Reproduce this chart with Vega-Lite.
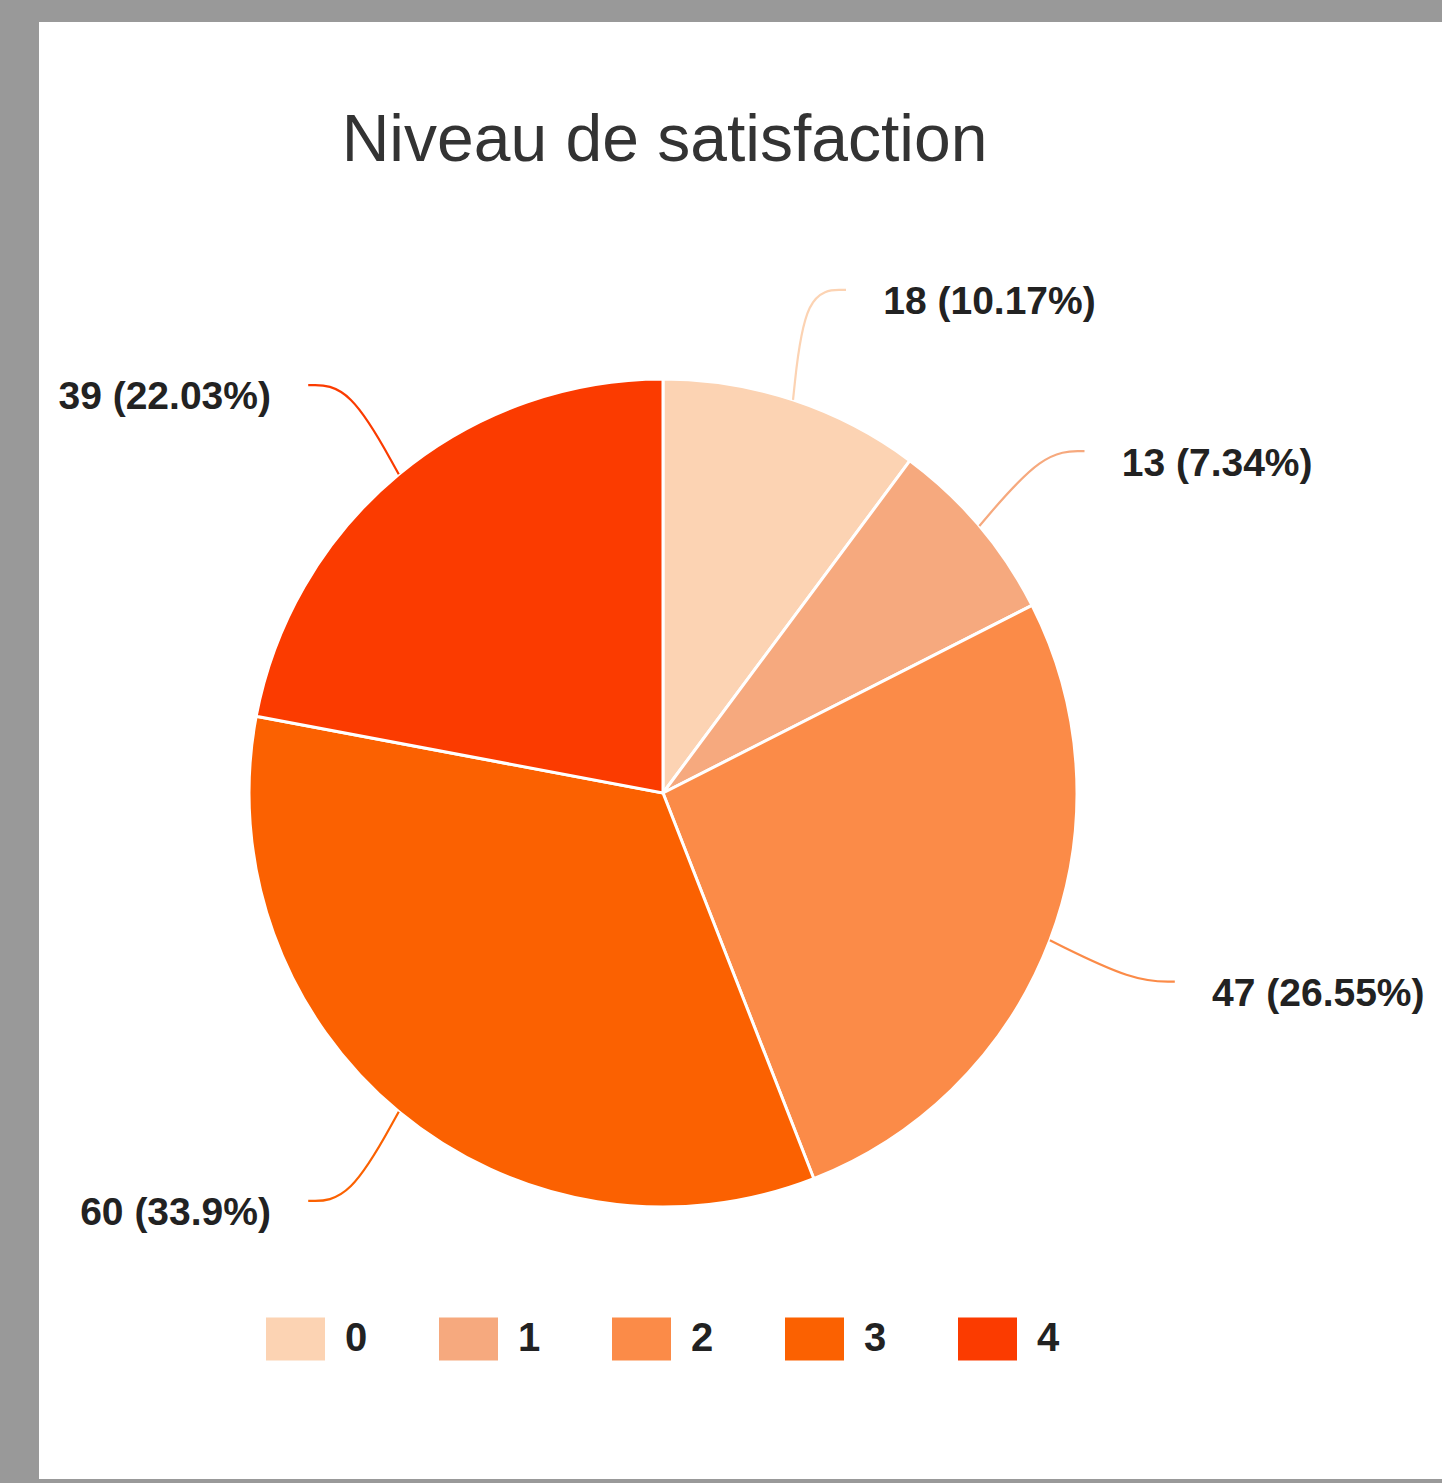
{
  "$schema": "https://vega.github.io/schema/vega-lite/v6.json",
  "autosize": "none",
  "width": 1403,
  "height": 1457,
  "padding": {"left": 39, "top": 22, "right": 0, "bottom": 4},
  "background": "#999999",
  "view": {"fill": "white", "stroke": null},
  "title": {
    "text": "Niveau de satisfaction",
    "fontSize": 66,
    "font": "Liberation Sans",
    "fontWeight": "normal",
    "color": "#333333",
    "anchor": "middle",
    "frame": "group",
    "dx": -76,
    "offset": -205,
    "baseline": "alphabetic"
  },
  "data": {
    "values": [
      {"cat": "0", "value": 18},
      {"cat": "1", "value": 13},
      {"cat": "2", "value": 47},
      {"cat": "3", "value": 60},
      {"cat": "4", "value": 39}
    ]
  },
  "transform": [
    {"window": [{"op": "sum", "field": "value", "as": "cum"}], "sort": [{"field": "cat"}], "frame": [null, 0]},
    {"joinaggregate": [{"op": "sum", "field": "value", "as": "total"}]},
    {"calculate": "2*PI*(datum.cum - datum.value/2)/datum.total", "as": "mid"},
    {"calculate": "sin(datum.mid) >= 0 ? 1 : -1", "as": "side"},
    {"calculate": "1.28*sin(datum.mid) + 0.04*datum.side", "as": "ex"},
    {"calculate": "1.28*cos(datum.mid)", "as": "ey"},
    {"calculate": "datum.ex + 0.09*datum.side", "as": "tx"},
    {"calculate": "datum.ey - 0.03", "as": "ty"},
    {"calculate": "datum.value + ' (' + round(datum.value/datum.total*10000)/100 + '%)'", "as": "label"}
  ],
  "layer": [
    {
      "mark": {"type": "arc", "outerRadius": 414, "stroke": "white", "strokeWidth": 3},
      "encoding": {
        "x": {"datum": 0, "type": "quantitative", "scale": {"domain": [-1.5072, 1.8816], "nice": false, "zero": false}, "axis": null},
        "y": {"datum": 0, "type": "quantitative", "scale": {"domain": [-1.657, 1.8623], "nice": false, "zero": false}, "axis": null},
        "theta": {"field": "value", "type": "quantitative", "stack": true},
        "order": {"field": "cat", "type": "ordinal"},
        "color": {
          "field": "cat",
          "type": "nominal",
          "scale": {"domain": ["0", "1", "2", "3", "4"], "range": ["#fcd3b3", "#f6a97e", "#fb8b48", "#fb6101", "#fb3b00"]},
          "legend": {
            "orient": "none",
            "legendX": 227,
            "legendY": 1287,
            "direction": "horizontal",
            "columns": 5,
            "title": null,
            "padding": 0,
            "symbolType": "M-1,-0.73H1V0.73H-1Z",
            "symbolSize": 3481,
            "symbolStrokeWidth": 0,
            "labelFont": "Liberation Sans",
            "labelFontSize": 40,
            "labelFontWeight": "bold",
            "labelColor": "#222222",
            "labelOffset": 20,
            "columnPadding": 71
          }
        }
      }
    },
    {
      "transform": [
        {"calculate": "[0, 1, 2]", "as": "k"},
        {"flatten": ["k"]},
        {"calculate": "datum.k == 0 ? sin(datum.mid) : (datum.k == 1 ? datum.ex - 0.1*datum.side : datum.ex)", "as": "px"},
        {"calculate": "datum.k == 0 ? cos(datum.mid) : datum.ey", "as": "py"}
      ],
      "mark": {"type": "line", "interpolate": "basis", "strokeWidth": 2.2},
      "encoding": {
        "x": {"field": "px", "type": "quantitative", "scale": {"domain": [-1.5072, 1.8816], "nice": false, "zero": false}, "axis": null},
        "y": {"field": "py", "type": "quantitative", "scale": {"domain": [-1.657, 1.8623], "nice": false, "zero": false}, "axis": null},
        "detail": {"field": "cat"},
        "order": {"field": "k", "type": "quantitative"},
        "color": {"field": "cat", "type": "nominal", "legend": null}
      }
    },
    {
      "transform": [{"filter": "datum.side > 0"}],
      "mark": {"type": "text", "align": "left", "baseline": "middle", "font": "Liberation Sans", "fontSize": 39, "fontWeight": "bold", "color": "#222222"},
      "encoding": {
        "x": {"field": "tx", "type": "quantitative", "scale": {"domain": [-1.5072, 1.8816], "nice": false, "zero": false}, "axis": null},
        "y": {"field": "ty", "type": "quantitative", "scale": {"domain": [-1.657, 1.8623], "nice": false, "zero": false}, "axis": null},
        "text": {"field": "label"}
      }
    },
    {
      "transform": [{"filter": "datum.side < 0"}],
      "mark": {"type": "text", "align": "right", "baseline": "middle", "font": "Liberation Sans", "fontSize": 39, "fontWeight": "bold", "color": "#222222"},
      "encoding": {
        "x": {"field": "tx", "type": "quantitative", "scale": {"domain": [-1.5072, 1.8816], "nice": false, "zero": false}, "axis": null},
        "y": {"field": "ty", "type": "quantitative", "scale": {"domain": [-1.657, 1.8623], "nice": false, "zero": false}, "axis": null},
        "text": {"field": "label"}
      }
    }
  ]
}
